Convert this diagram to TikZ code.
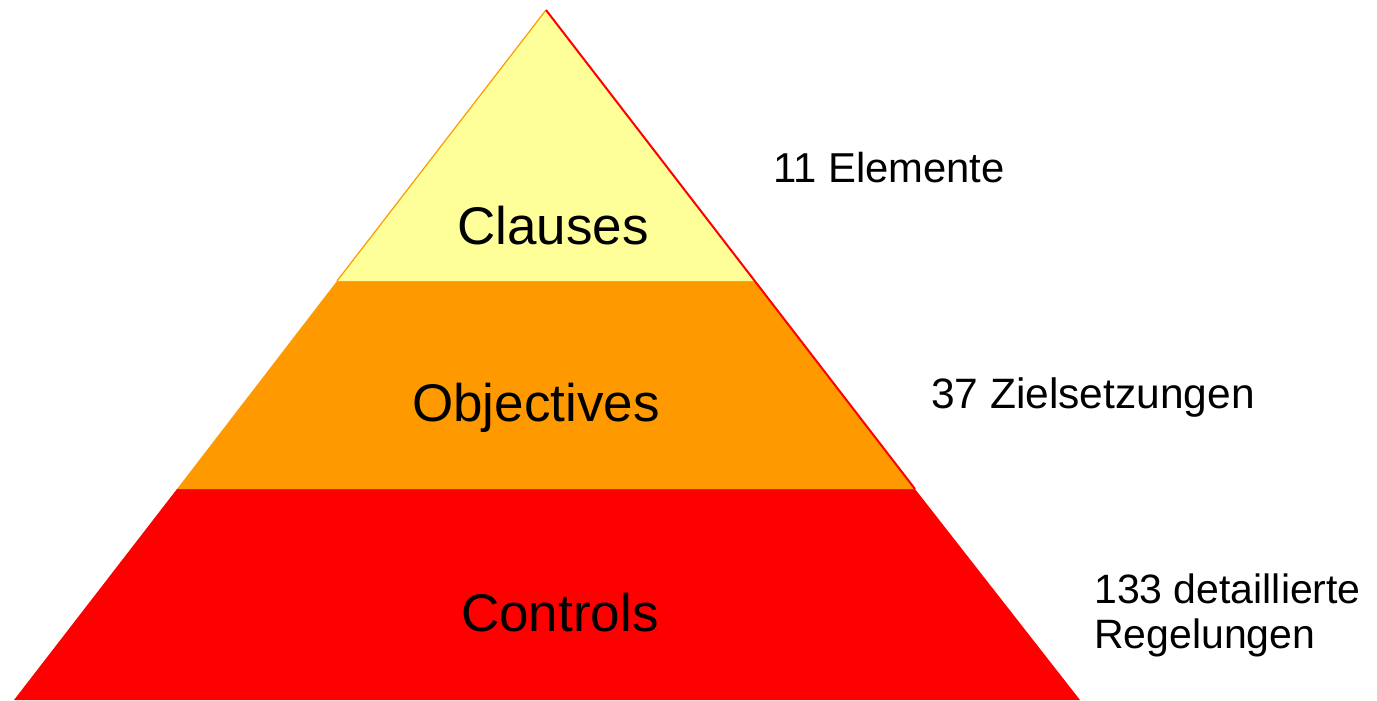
\documentclass[tikz,border=0pt]{standalone}
\usepackage{fontspec}
\setmainfont{Liberation Sans}
\definecolor{tierY}{HTML}{FFFF99}
\definecolor{tierO}{HTML}{FF9900}
\definecolor{tierR}{HTML}{FF0000}
\begin{document}
\begin{tikzpicture}[x=1pt,y=-1pt,
  bigtxt/.style={anchor=base west,inner sep=0pt,font=\fontsize{53}{60}\selectfont},
  sidetxt/.style={anchor=base west,inner sep=0pt,font=\fontsize{41}{45}\selectfont}]
\useasboundingbox (0,0) rectangle (1377,701);
\coordinate (apex) at (546,10);
\coordinate (l1) at (337,281);
\coordinate (r1) at (755,281);
\coordinate (l2) at (177,489);
\coordinate (r2) at (915,489);
\coordinate (l3) at (14,700);
\coordinate (r3) at (1080,700);
\fill[tierR] (l2) -- (r2) -- (r3) -- (l3) -- cycle;
\fill[tierO] (l1) -- (r1) -- (r2) -- (l2) -- cycle;
\fill[tierY] (apex) -- (r1) -- (l1) -- cycle;
\draw[tierO,line width=1.2pt] (apex) -- (l1);
\draw[tierR,line width=2pt] (apex) -- (r2);
\node[bigtxt] (clauses) at (457,244) {Clauses};
\node[bigtxt] (objectives) at (412,421) {Objectives};
\node[bigtxt] (controls) at (461,631) {Controls};
\node[sidetxt,font=\fontsize{41.8}{45}\selectfont] (elem) at (773,182) {11 Elemente};
\node[sidetxt,font=\fontsize{42.5}{45}\selectfont] (ziel) at (931,408) {37 Zielsetzungen};
\node[sidetxt] (reg1) at (1094,603) {133 detaillierte};
\node[sidetxt] (reg2) at (1094,648) {Regelungen};
\end{tikzpicture}
\end{document}
